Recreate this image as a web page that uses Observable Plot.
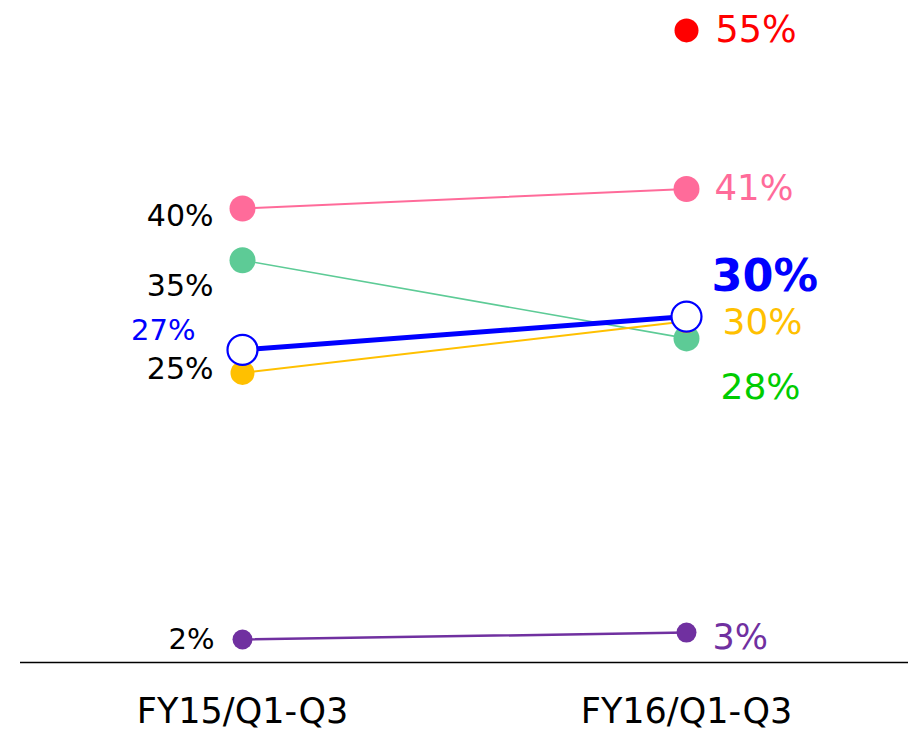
<!DOCTYPE html>
<html>
<head>
<meta charset="utf-8">
<script src="https://cdn.jsdelivr.net/npm/d3@7"></script>
<script src="https://cdn.jsdelivr.net/npm/@observablehq/plot@0.6"></script>
<style>
  html, body { margin: 0; padding: 0; background: #fff; }
  #chart svg { display: block; }
</style>
</head>
<body>
<div id="chart"></div>
<script>
// ---- data ----
const periods = ["FY15/Q1-Q3", "FY16/Q1-Q3"];
const seriesNames = ["pink", "green", "yellow", "purple", "red", "blue"];
const pinkValues   = [39.5, 41.2];
const greenValues  = [35.0, 28.2];
const yellowValues = [25.2, 29.7];
const purpleValues = [2.0, 2.6];
const redValues    = [null, 55.0];
const blueValues   = [27.2, 30.1];
const pinkLabels   = ["40%", "41%"];
const greenLabels  = ["35%", "28%"];
const yellowLabels = ["25%", "30%"];
const purpleLabels = ["2%", "3%"];
const redLabels    = [null, "55%"];
const blueLabels   = ["27%", "30%"];

const valuesBy = {pink: pinkValues, green: greenValues, yellow: yellowValues, purple: purpleValues, red: redValues, blue: blueValues};
const labelsBy = {pink: pinkLabels, green: greenLabels, yellow: yellowLabels, purple: purpleLabels, red: redLabels, blue: blueLabels};

// ---- styles ----
const style = {
  pink:   {line: "#FF6B9A", dot: "#FF6B9A", r: 13, sw: 2,
           left: {fill: "#000", size: 30, dx: -29, dy: 8},  right: {fill: "#FF6B9A", size: 35.5, dx: 28, dy: 0}},
  green:  {line: "#5DCB96", dot: "#5DCB96", r: 13, sw: 1.6,
           left: {fill: "#000", size: 30, dx: -29, dy: 26}, right: {fill: "#00CC00", size: 36, dx: 34, dy: 49}},
  yellow: {line: "#FFC000", dot: "#FFC000", r: 12, sw: 2,
           left: {fill: "#000", size: 30, dx: -29, dy: -3}, right: {fill: "#FFC000", size: 36, dx: 36, dy: 1}},
  purple: {line: "#7030A0", dot: "#7030A0", r: 10, sw: 2.5,
           left: {fill: "#000", size: 29, dx: -28, dy: 0},  right: {fill: "#7030A0", size: 35, dx: 26, dy: 5}},
  red:    {line: "#FF0000", dot: "#FF0000", r: 12, sw: 2,
           left: null, right: {fill: "#FF0000", size: 36.5, dx: 29, dy: 0}},
  blue:   {line: "#0000FF", dot: "#FFFFFF", stroke: "#0000FF", r: 15, sw: 5,
           left: {fill: "#0000FF", size: 29, dx: -47, dy: -19}, right: {fill: "#0000FF", size: 44.5, dx: 25, dy: -40, weight: "bold"}}
};

const rows = [];
for (const s of seriesNames) {
  valuesBy[s].forEach((v, i) => {
    if (v != null) rows.push({series: s, period: periods[i], value: v, label: labelsBy[s][i], side: i === 0 ? "left" : "right"});
  });
}

const marks = [Plot.ruleY([0], {stroke: "#000", strokeWidth: 1.3})];
for (const s of seriesNames) {
  const d = rows.filter(r => r.series === s);
  const st = style[s];
  if (d.length > 1) marks.push(Plot.line(d, {x: "period", y: "value", stroke: st.line, strokeWidth: st.sw}));
  marks.push(Plot.dot(d, {x: "period", y: "value", r: st.r, fill: st.dot,
    stroke: st.stroke || "none", strokeWidth: st.stroke ? 2.2 : 0}));
}
for (const s of seriesNames) {
  const st = style[s];
  for (const side of ["left", "right"]) {
    const ls = st[side];
    if (!ls) continue;
    const d = rows.filter(r => r.series === s && r.side === side);
    marks.push(Plot.text(d, {
      x: "period", y: "value", text: "label",
      fill: ls.fill, fontSize: ls.size, fontWeight: ls.weight || "normal",
      textAnchor: side === "left" ? "end" : "start",
      dx: ls.dx, dy: ls.dy
    }));
  }
}
marks.push(Plot.axisX({tickSize: 0, tickPadding: 36, fontSize: 35, fill: "#000", label: null}));

const chart = Plot.plot({
  width: 908,
  height: 733,
  marginLeft: 20,
  marginRight: 0,
  marginTop: 0,
  marginBottom: 71,
  style: {fontFamily: "DejaVu Sans", background: "#fff"},
  x: {type: "point", domain: periods, padding: 0.5, axis: null},
  y: {domain: [0, 57.6], axis: null},
  marks
});
document.getElementById("chart").appendChild(chart);
</script>
</body>
</html>
